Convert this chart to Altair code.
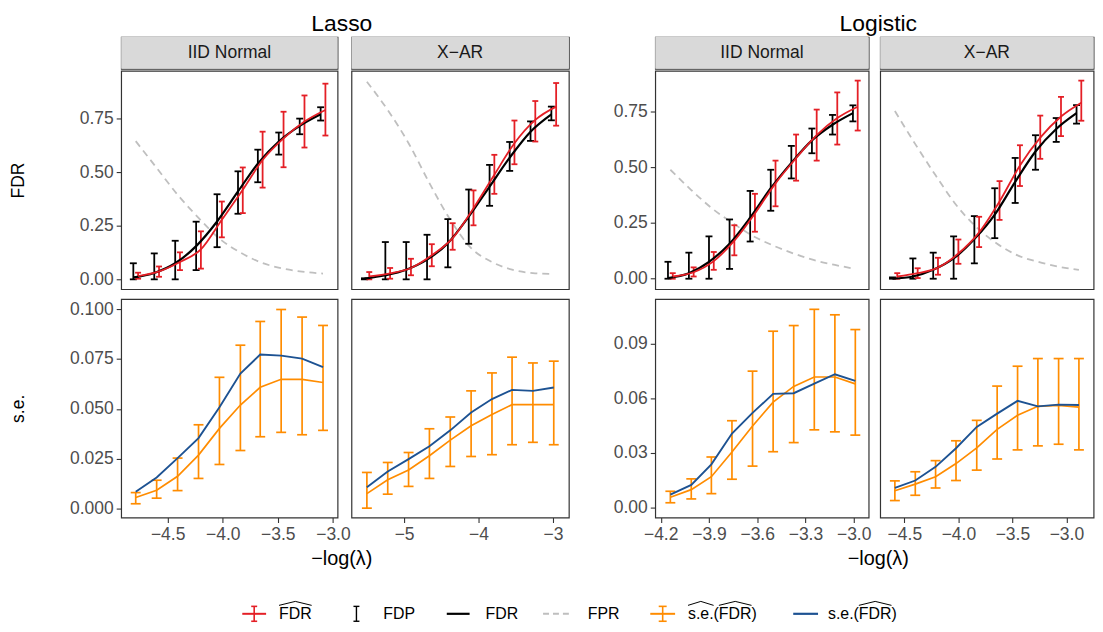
import altair as alt
import pandas as pd

FONT = "Liberation Sans"
RED = "#E41F26"
ORANGE = "#FF8C00"
BLUE = "#1D5292"
GRAY = "#BFBFBF"
STRIPFILL = "#D9D9D9"
BORDER = "#333333"

# ---------------- data ----------------
# Lasso / IID Normal
lasso_iid_x = [-4.79, -4.60, -4.41, -4.22, -4.03, -3.84, -3.66, -3.47, -3.28, -3.09]
lasso_iid_fdrhat = [0.015, 0.037, 0.081, 0.140, 0.278, 0.418, 0.557, 0.658, 0.736, 0.790]
lasso_iid_fdrhat_lo = [0.003, 0.012, 0.043, 0.050, 0.196, 0.309, 0.428, 0.523, 0.615, 0.671]
lasso_iid_fdrhat_hi = [0.031, 0.060, 0.126, 0.224, 0.363, 0.522, 0.689, 0.782, 0.858, 0.913]
lasso_iid_fdp_lo = [0.0, 0.0, 0.0, 0.043, 0.150, 0.306, 0.453, 0.582, 0.677, 0.741]
lasso_iid_fdp_hi = [0.075, 0.121, 0.180, 0.269, 0.397, 0.504, 0.605, 0.685, 0.750, 0.803]
lasso_iid_fdr = [0.009, 0.030, 0.075, 0.155, 0.270, 0.410, 0.540, 0.643, 0.716, 0.770]
lasso_iid_fpr = [0.645, 0.520, 0.395, 0.287, 0.190, 0.125, 0.080, 0.052, 0.036, 0.027]
lasso_iid_sehat = [0.0055, 0.0092, 0.0162, 0.0268, 0.0402, 0.0519, 0.0608, 0.0648, 0.0648, 0.0632]
lasso_iid_sehat_lo = [0.0024, 0.0052, 0.0090, 0.0151, 0.0221, 0.0291, 0.0360, 0.0382, 0.0370, 0.0392]
lasso_iid_sehat_hi = [0.0080, 0.0142, 0.0253, 0.0420, 0.0658, 0.0819, 0.0938, 0.0998, 0.0960, 0.0918]
lasso_iid_se = [0.0084, 0.0156, 0.0253, 0.0353, 0.0508, 0.0677, 0.0772, 0.0767, 0.0752, 0.0709]

# Lasso / X-AR
lasso_xar_x = [-5.50, -5.22, -4.94, -4.66, -4.38, -4.10, -3.82, -3.55, -3.27, -2.99]
lasso_xar_fdrhat = [0.014, 0.028, 0.053, 0.112, 0.192, 0.332, 0.488, 0.635, 0.744, 0.806]
lasso_xar_fdrhat_lo = [0.0, 0.003, 0.019, 0.061, 0.138, 0.252, 0.399, 0.537, 0.643, 0.717]
lasso_xar_fdrhat_hi = [0.034, 0.053, 0.096, 0.164, 0.262, 0.415, 0.581, 0.741, 0.832, 0.916]
lasso_xar_fdp_lo = [0.0, 0.0, 0.0, 0.0, 0.056, 0.166, 0.343, 0.506, 0.646, 0.742]
lasso_xar_fdp_hi = [0.005, 0.174, 0.174, 0.208, 0.281, 0.419, 0.534, 0.641, 0.737, 0.806]
lasso_xar_fdr = [0.003, 0.019, 0.045, 0.092, 0.169, 0.293, 0.433, 0.568, 0.689, 0.770]
lasso_xar_fpr = [0.922, 0.790, 0.635, 0.449, 0.278, 0.146, 0.081, 0.045, 0.029, 0.025]
lasso_xar_sehat = [0.0075, 0.0144, 0.0193, 0.0265, 0.0343, 0.0415, 0.0471, 0.0521, 0.0521, 0.0521]
lasso_xar_sehat_lo = [0.0002, 0.0072, 0.0111, 0.0151, 0.0211, 0.0261, 0.0270, 0.0320, 0.0332, 0.0320]
lasso_xar_sehat_hi = [0.0181, 0.0231, 0.0281, 0.0400, 0.0459, 0.0590, 0.0680, 0.0759, 0.0730, 0.0739]
lasso_xar_se = [0.0107, 0.0186, 0.0248, 0.0312, 0.0392, 0.0482, 0.0549, 0.0595, 0.0590, 0.0607]

# Logistic / IID Normal
logit_iid_x = [-4.14, -4.01, -3.885, -3.757, -3.629, -3.501, -3.373, -3.245, -3.117, -2.99]
logit_iid_fdrhat = [0.010, 0.029, 0.079, 0.171, 0.293, 0.428, 0.541, 0.644, 0.721, 0.772]
logit_iid_fdrhat_lo = [0.0, 0.010, 0.040, 0.105, 0.211, 0.325, 0.440, 0.530, 0.602, 0.665]
logit_iid_fdrhat_hi = [0.025, 0.051, 0.120, 0.240, 0.381, 0.530, 0.647, 0.759, 0.836, 0.889]
logit_iid_fdp_lo = [0.0, 0.0, 0.0, 0.044, 0.167, 0.305, 0.450, 0.563, 0.647, 0.706]
logit_iid_fdp_hi = [0.076, 0.117, 0.190, 0.266, 0.394, 0.489, 0.596, 0.674, 0.735, 0.778]
logit_iid_fdr = [0.003, 0.025, 0.076, 0.157, 0.274, 0.406, 0.520, 0.621, 0.691, 0.743]
logit_iid_fpr = [0.489, 0.398, 0.318, 0.252, 0.193, 0.149, 0.113, 0.083, 0.062, 0.044]
logit_iid_sehat = [0.0057, 0.0099, 0.0170, 0.0305, 0.0448, 0.0579, 0.0665, 0.0717, 0.0717, 0.0679]
logit_iid_sehat_lo = [0.0027, 0.0048, 0.0077, 0.0156, 0.0228, 0.0307, 0.0357, 0.0427, 0.0416, 0.0398]
logit_iid_sehat_hi = [0.0090, 0.0158, 0.0278, 0.0477, 0.0749, 0.0968, 0.0999, 0.1088, 0.1058, 0.0977]
logit_iid_se = [0.0072, 0.0125, 0.0238, 0.0407, 0.0520, 0.0624, 0.0628, 0.0681, 0.0732, 0.0696]

# Logistic / X-AR
logit_xar_x = [-4.588, -4.399, -4.211, -4.022, -3.830, -3.641, -3.452, -3.264, -3.072, -2.884]
logit_xar_fdrhat = [0.010, 0.025, 0.050, 0.113, 0.208, 0.347, 0.508, 0.633, 0.728, 0.790]
logit_xar_fdrhat_lo = [0.0, 0.003, 0.018, 0.067, 0.142, 0.264, 0.416, 0.538, 0.640, 0.709]
logit_xar_fdrhat_hi = [0.025, 0.047, 0.094, 0.176, 0.278, 0.438, 0.599, 0.732, 0.816, 0.889]
logit_xar_fdp_lo = [0.0, 0.0, 0.0, 0.0, 0.069, 0.182, 0.340, 0.489, 0.614, 0.696]
logit_xar_fdp_hi = [0.006, 0.091, 0.117, 0.190, 0.281, 0.406, 0.542, 0.644, 0.721, 0.779]
logit_xar_fdr = [0.0, 0.010, 0.040, 0.091, 0.178, 0.288, 0.435, 0.571, 0.672, 0.743]
logit_xar_fpr = [0.753, 0.604, 0.464, 0.332, 0.230, 0.157, 0.105, 0.076, 0.054, 0.040]
logit_xar_sehat = [0.0093, 0.0129, 0.0170, 0.0242, 0.0328, 0.0430, 0.0507, 0.0556, 0.0561, 0.0552]
logit_xar_sehat_lo = [0.0039, 0.0068, 0.0108, 0.0149, 0.0206, 0.0267, 0.0317, 0.0339, 0.0348, 0.0317]
logit_xar_sehat_hi = [0.0147, 0.0197, 0.0258, 0.0367, 0.0479, 0.0667, 0.0776, 0.0818, 0.0818, 0.0818]
logit_xar_se = [0.0108, 0.0149, 0.0224, 0.0326, 0.0443, 0.0516, 0.0586, 0.0556, 0.0565, 0.0563]

methods = ["Lasso", "Logistic"]
designs = ["IID Normal", "X\u2212AR"]
row_labels = ["FDR", "s.e."]
x_title = "\u2212log(\u03bb)"
legend_labels = ["FDR", "FDP", "FDR", "FPR", "s.e.(FDR)", "s.e.(FDR)"]

fdr_ticks = [0, 0.25, 0.5, 0.75]
lasso_se_ticks = [0, 0.025, 0.05, 0.075, 0.1]
logit_se_ticks = [0, 0.03, 0.06, 0.09]
lasso_iid_xticks = [-4.5, -4.0, -3.5, -3.0]
lasso_xar_xticks = [-5, -4, -3]
logit_iid_xticks = [-4.2, -3.9, -3.6, -3.3, -3.0]
logit_xar_xticks = [-4.5, -4.0, -3.5, -3.0]

# ---------------- layout constants ----------------
H = 220
STRIP_H = 32
DODGE = 2.4
TICK_FS = 17.6
ROW_TITLE_X = -94.5


def frame(prefix):
    g = globals()
    return pd.DataFrame({
        "x": g[prefix + "_x"],
        "fdrhat": g[prefix + "_fdrhat"],
        "fdrhat_lo": g[prefix + "_fdrhat_lo"],
        "fdrhat_hi": g[prefix + "_fdrhat_hi"],
        "fdp_lo": g[prefix + "_fdp_lo"],
        "fdp_hi": g[prefix + "_fdp_hi"],
        "fdr": g[prefix + "_fdr"],
        "fpr": g[prefix + "_fpr"],
        "sehat": g[prefix + "_sehat"],
        "sehat_lo": g[prefix + "_sehat_lo"],
        "sehat_hi": g[prefix + "_sehat_hi"],
        "se": g[prefix + "_se"],
    })


def errorbar(base, X, Y, lo, hi, color, off, half, sw):
    return [
        base.mark_rule(color=color, strokeWidth=sw, xOffset=off).encode(
            x=X, y=Y(lo), y2=alt.Y2(hi)),
        base.mark_rule(color=color, strokeWidth=sw, xOffset=off - half, x2Offset=off + half).encode(
            x=X, x2=alt.X2("x"), y=Y(lo)),
        base.mark_rule(color=color, strokeWidth=sw, xOffset=off - half, x2Offset=off + half).encode(
            x=X, x2=alt.X2("x"), y=Y(hi)),
    ]


def y_axis(ticks, fmt, row_title):
    if row_title:
        return alt.Axis(values=ticks, format=fmt, title=row_title, titleX=ROW_TITLE_X, titleY=H / 2,
                        titleFontSize=TICK_FS, titleFontWeight="normal", titleColor="#000000")
    return alt.Axis(values=ticks, format=fmt, title=None)


def fdr_panel(df, xdom, ydom, w, show_y, row_title):
    xs = alt.Scale(domain=xdom, nice=False, zero=False)
    ys = alt.Scale(domain=ydom, nice=False, zero=False)
    yax = y_axis(fdr_ticks, ".2f", row_title) if show_y else None
    X = alt.X("x:Q", scale=xs, axis=None)

    def Y(f):
        return alt.Y(f + ":Q", scale=ys, axis=yax)

    base = alt.Chart(df)
    layers = [
        base.mark_line(color=GRAY, strokeDash=[7, 5], strokeWidth=1.8, interpolate="monotone").encode(
            x=X, y=Y("fpr")),
    ]
    layers += errorbar(base, X, Y, "fdp_lo", "fdp_hi", "#000000", -DODGE, 3.5, 1.8)
    layers += errorbar(base, X, Y, "fdrhat_lo", "fdrhat_hi", RED, DODGE, 3.0, 1.8)
    layers += [
        base.mark_line(color="#000000", strokeWidth=2.2, interpolate="monotone", xOffset=-DODGE).encode(
            x=X, y=Y("fdr")),
        base.mark_line(color=RED, strokeWidth=1.8, interpolate="monotone", xOffset=DODGE).encode(
            x=X, y=Y("fdrhat")),
    ]
    return alt.layer(*layers).properties(width=w, height=H)


def se_panel(df, xdom, xticks, xfmt, ydom, yticks, yfmt, w, show_y, row_title):
    xs = alt.Scale(domain=xdom, nice=False, zero=False)
    ys = alt.Scale(domain=ydom, nice=False, zero=False)
    xax = alt.Axis(values=xticks, format=xfmt, title=None)
    yax = y_axis(yticks, yfmt, row_title) if show_y else None
    X = alt.X("x:Q", scale=xs, axis=xax)

    def Y(f):
        return alt.Y(f + ":Q", scale=ys, axis=yax)

    base = alt.Chart(df)
    layers = errorbar(base, X, Y, "sehat_lo", "sehat_hi", ORANGE, 0, 5, 1.7)
    layers += [
        base.mark_line(color=ORANGE, strokeWidth=1.7).encode(x=X, y=Y("sehat")),
        base.mark_line(color=BLUE, strokeWidth=1.9).encode(x=X, y=Y("se")),
    ]
    return alt.layer(*layers).properties(width=w, height=H)


def strip(label, w):
    base = alt.Chart(pd.DataFrame({"label": [label]}))
    return alt.layer(
        base.mark_rect(fill=STRIPFILL).encode(
            x=alt.value(0), x2=alt.value(w), y=alt.value(0), y2=alt.value(STRIP_H)),
        base.mark_text(font=FONT, fontSize=TICK_FS, color="#1A1A1A", baseline="middle", align="center").encode(
            text="label:N", x=alt.value(w / 2), y=alt.value(STRIP_H / 2)),
    ).properties(width=w, height=STRIP_H)


def group(method, pre_iid, pre_xar, w1, w2, dom_iid, dom_xar, fdr_ydom, se_ydom, se_ticks, se_fmt,
          xt_iid, xf_iid, xt_xar, xf_xar, with_rows, col_spacing, dx):
    d1, d2 = frame(pre_iid), frame(pre_xar)
    col1 = alt.vconcat(
        alt.vconcat(strip(designs[0], w1),
                    fdr_panel(d1, dom_iid, fdr_ydom, w1, True, row_labels[0] if with_rows else None),
                    spacing=0),
        se_panel(d1, dom_iid, xt_iid, xf_iid, se_ydom, se_ticks, se_fmt, w1, True,
                 row_labels[1] if with_rows else None),
        spacing=8)
    col2 = alt.vconcat(
        alt.vconcat(strip(designs[1], w2),
                    fdr_panel(d2, dom_xar, fdr_ydom, w2, False, None),
                    spacing=0),
        se_panel(d2, dom_xar, xt_xar, xf_xar, se_ydom, se_ticks, se_fmt, w2, False, None),
        spacing=8)
    core = alt.hconcat(col1, col2, spacing=col_spacing,
                       title=alt.Title(method, anchor="middle", fontSize=23, fontWeight="normal",
                                       font=FONT, color="#000000", dx=dx, offset=0))
    return alt.vconcat(core, spacing=0,
                       title=alt.Title(x_title, orient="bottom", anchor="middle", fontSize=20,
                                       fontWeight="normal", font=FONT, color="#000000", dx=dx, offset=6))


# the last x label of each IID panel overhangs the panel, so the column spacing
# is reduced by that overhang to keep a 10 px gap between the panels
lasso = group(methods[0], "lasso_iid", "lasso_xar", 218, 219,
              [-4.922, -2.958], [-5.707, -2.787],
              [-0.046, 0.973], [-0.0045, 0.105], lasso_se_ticks, ".3f",
              lasso_iid_xticks, ".1f", lasso_xar_xticks, "d", True, -2.7, 53)
logit = group(methods[1], "logit_iid", "logit_xar", 215, 215,
              [-4.234, -2.907], [-4.724, -2.748],
              [-0.047, 0.933], [-0.0054, 0.1144], logit_se_ticks, ".2f",
              logit_iid_xticks, ".1f", logit_xar_xticks, ".1f", False, 7.6, 25)

top = alt.hconcat(lasso, logit, spacing=43)

# ---------------- legend (drawn by hand at the bottom) ----------------
OX = 120          # page x of the chart origin the legend is aligned to
LW = 800
LH = 20
YC = 12
px = lambda v: v - OX
solid = []
dashed = []
solid += [(px(242), px(266), YC, YC, RED, 2.0),
          (px(254), px(254), YC - 7.5, YC + 7.5, RED, 1.6),
          (px(251), px(257), YC - 7.5, YC - 7.5, RED, 1.6),
          (px(251), px(257), YC + 7.5, YC + 7.5, RED, 1.6)]
solid += [(px(357), px(357), YC - 7.5, YC + 7.5, "#000000", 1.4),
          (px(354), px(360), YC - 7.5, YC - 7.5, "#000000", 1.4),
          (px(354), px(360), YC + 7.5, YC + 7.5, "#000000", 1.4)]
solid += [(px(448), px(471), YC, YC, "#000000", 2.2)]
dashed += [(px(545), px(574), YC, YC, GRAY, 2.0)]
solid += [(px(653), px(678), YC, YC, ORANGE, 2.0),
          (px(665.5), px(665.5), YC - 7.5, YC + 7.5, ORANGE, 1.6),
          (px(661.5), px(669.5), YC - 7.5, YC - 7.5, ORANGE, 1.6),
          (px(661.5), px(669.5), YC + 7.5, YC + 7.5, ORANGE, 1.6)]
solid += [(px(797), px(822), YC, YC, BLUE, 2.2)]

seg_cols = ["x1", "x2", "y1", "y2", "c", "w"]
seg_df = pd.DataFrame(solid, columns=seg_cols)
dash_df = pd.DataFrame(dashed, columns=seg_cols)

label_x = [279, 384, 487, 590, 691, 832]
lab_df = pd.DataFrame({"label": legend_labels, "lx": [px(v) for v in label_x]})

LFS = 16
w_se = (0.5 + 0.278 + 0.556 + 0.278) * LFS
w_par = 0.333 * LFS
w_fdr = (0.611 + 0.722 + 0.722) * LFS
hat_spans = [(279, 279 + w_fdr),
             (691, 691 + w_se),
             (691 + w_se + w_par, 691 + w_se + w_par + w_fdr),
             (832 + w_se + w_par, 832 + w_se + w_par + w_fdr)]
hat_rows = []
for i, (a, b) in enumerate(hat_spans):
    hat_rows += [(i, 0, px(a), YC - 8.5), (i, 1, px((a + b) / 2), YC - 12.5), (i, 2, px(b), YC - 8.5)]
hat_df = pd.DataFrame(hat_rows, columns=["id", "k", "hx", "hy"])

leg_solid = alt.Chart(seg_df).mark_rule().encode(
    x=alt.X("x1:Q", scale=None, axis=None), x2="x2:Q",
    y=alt.Y("y1:Q", scale=None, axis=None), y2="y2:Q",
    color=alt.Color("c:N", scale=None), strokeWidth=alt.StrokeWidth("w:Q", scale=None))
leg_dash = alt.Chart(dash_df).mark_rule(strokeDash=[6, 4]).encode(
    x=alt.X("x1:Q", scale=None, axis=None), x2="x2:Q",
    y=alt.Y("y1:Q", scale=None, axis=None), y2="y2:Q",
    color=alt.Color("c:N", scale=None), strokeWidth=alt.StrokeWidth("w:Q", scale=None))
leg_text = alt.Chart(lab_df).mark_text(font=FONT, fontSize=LFS, align="left", baseline="middle",
                                       color="#000000").encode(
    x=alt.X("lx:Q", scale=None, axis=None), y=alt.value(YC), text="label:N")
leg_hat = alt.Chart(hat_df).mark_line(color="#000000", strokeWidth=1.0).encode(
    x=alt.X("hx:Q", scale=None, axis=None), y=alt.Y("hy:Q", scale=None, axis=None),
    detail="id:N", order="k:Q")
legend = alt.layer(leg_solid, leg_dash, leg_hat, leg_text).properties(
    width=LW, height=LH, view=alt.ViewBackground(stroke="transparent"))

chart = alt.vconcat(top, legend, spacing=28).properties(
    padding={"top": 3, "left": 0, "right": 0, "bottom": 0}
).configure(
    font=FONT
).configure_view(
    stroke=BORDER, strokeWidth=1.2
).configure_axis(
    labelFont=FONT, labelFontSize=TICK_FS, labelColor="#4D4D4D",
    tickColor=BORDER, tickSize=5, tickWidth=1.1, domain=False, grid=False,
    labelPadding=3, titleFont=FONT
)

chart.save("out.html", embed_options={"renderer": "svg", "actions": False})
